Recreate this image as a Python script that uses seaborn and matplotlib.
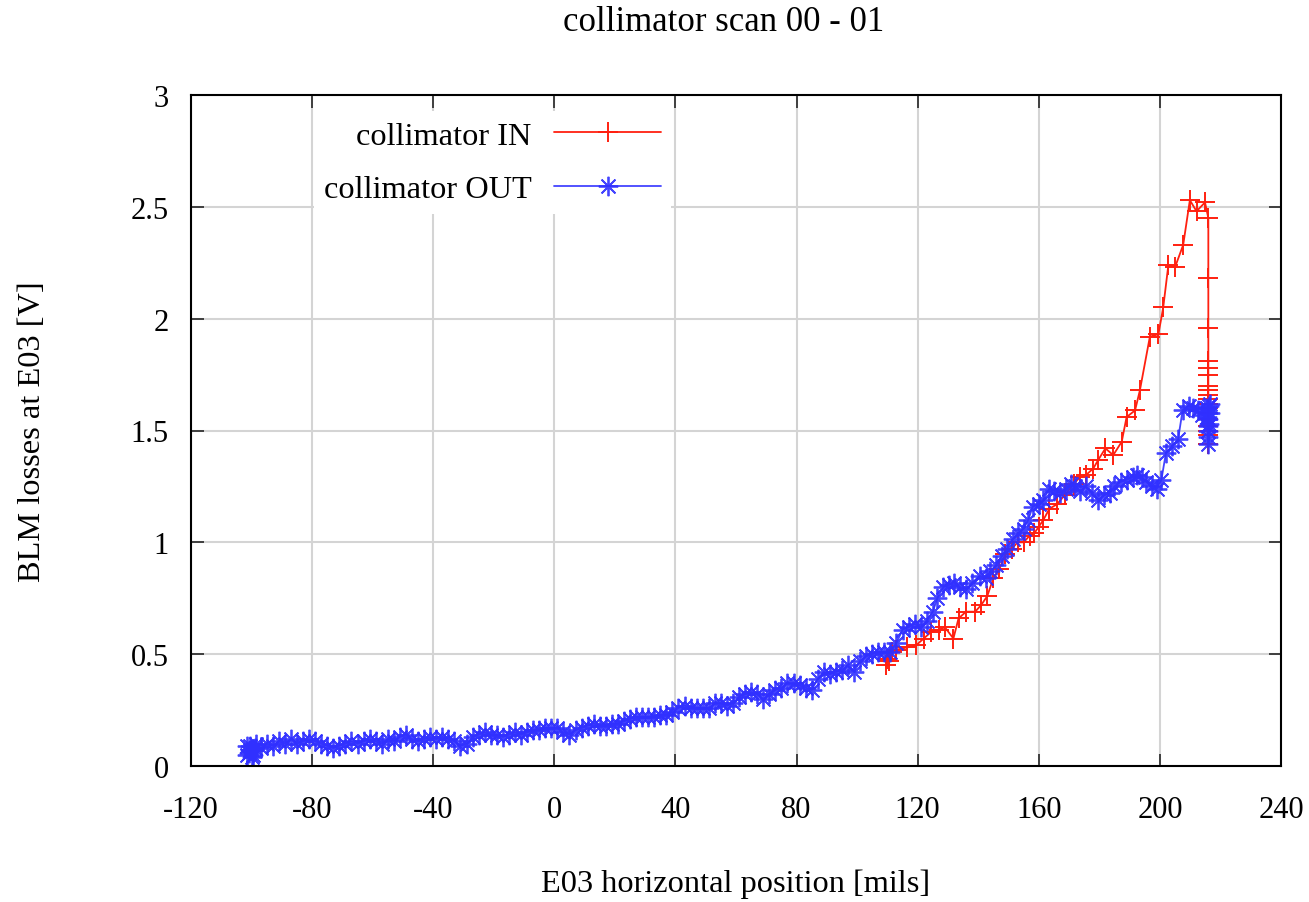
import matplotlib
matplotlib.use("Agg")
import matplotlib.pyplot as plt
import seaborn as sns
import pandas as pd

# BLM loss readings versus E03 horizontal position, collimator retracted
out_x = [-101.5, -100.5, -100, -99, -101, -98.5, -100.5, -101.5, -99.5, -100,
         -97, -95, -93, -91, -89, -87, -85, -83, -81, -79,
         -77, -75, -73, -71, -69, -67, -65, -63, -61, -59,
         -57, -55, -53, -51, -49, -47, -45, -43, -41, -39,
         -37, -35, -33, -31, -29, -27, -25, -23, -21, -19,
         -17, -15, -13, -11, -9, -7, -5, -3, -1, 1,
         3, 5, 7, 9, 11, 13, 15, 17, 19, 21,
         23, 25, 27, 29, 31, 33, 35, 37, 39, 41,
         43, 45, 47, 49, 51, 53, 55, 57, 59, 61,
         63, 65, 67, 69, 71, 73, 75, 77, 79, 81,
         83, 85, 87, 89, 91, 93, 95, 97, 99, 101,
         103, 105, 107, 109, 111, 113, 115, 117, 119, 121,
         123, 125, 126.5, 128.5, 130.5, 132, 134, 136, 138, 140.5,
         142.5, 144, 146, 148, 149.5, 151.5, 153, 155, 156.5, 158,
         160, 161.5, 163.5, 165, 167, 169, 170.5, 172, 173.5, 175.5,
         177.5, 179.5, 181.5, 183.5, 185, 187, 189, 191, 192.5, 194,
         195.5, 197.5, 199, 200.5, 202, 204, 206, 207.5, 209.5, 211,
         212.5, 214, 215.5, 216, 216.5, 216, 215.8, 216.3, 216, 215.7,
         216.2, 216, 216.4, 216]
out_y = [0.05, 0.09, 0.04, 0.08, 0.06, 0.10, 0.07, 0.09, 0.05, 0.07,
         0.08, 0.10, 0.09, 0.11, 0.10, 0.12, 0.10, 0.11, 0.12, 0.11,
         0.10, 0.09, 0.08, 0.09, 0.10, 0.11, 0.10, 0.11, 0.12, 0.11,
         0.10, 0.12, 0.11, 0.13, 0.14, 0.12, 0.11, 0.12, 0.13, 0.12,
         0.13, 0.12, 0.11, 0.09, 0.10, 0.13, 0.14, 0.15, 0.14, 0.14,
         0.13, 0.14, 0.15, 0.14, 0.15, 0.16, 0.16, 0.17, 0.17, 0.17,
         0.15, 0.14, 0.16, 0.17, 0.18, 0.19, 0.18, 0.18, 0.19, 0.19,
         0.20, 0.21, 0.22, 0.22, 0.22, 0.22, 0.23, 0.23, 0.24, 0.26,
         0.27, 0.26, 0.26, 0.26, 0.26, 0.28, 0.28, 0.27, 0.28, 0.31,
         0.32, 0.33, 0.32, 0.30, 0.32, 0.34, 0.35, 0.37, 0.37, 0.36,
         0.35, 0.34, 0.39, 0.42, 0.41, 0.42, 0.43, 0.45, 0.42, 0.47,
         0.49, 0.50, 0.51, 0.51, 0.51, 0.55, 0.61, 0.62, 0.635, 0.62,
         0.65, 0.69, 0.75, 0.80, 0.81, 0.82, 0.80, 0.79, 0.82, 0.85,
         0.84, 0.87, 0.90, 0.94, 0.97, 1.015, 1.04, 1.06, 1.10, 1.16,
         1.17, 1.19, 1.24, 1.23, 1.22, 1.24, 1.26, 1.25, 1.23, 1.25,
         1.22, 1.19, 1.21, 1.22, 1.25, 1.27, 1.28, 1.29, 1.30, 1.29,
         1.27, 1.25, 1.24, 1.28, 1.40, 1.43, 1.46, 1.59, 1.61, 1.60,
         1.59, 1.57, 1.60, 1.55, 1.62, 1.50, 1.58, 1.53, 1.47, 1.56,
         1.61, 1.52, 1.58, 1.44]

# BLM loss readings with the collimator inserted
in_x = [109.5, 110, 110.5, 111.5, 113, 116.5, 119.5, 122, 124.5, 127,
        129, 131.8, 133.5, 136, 139, 141, 143, 145, 147, 149,
        151, 153, 155, 157, 158.5, 160, 161.5, 163.5, 166, 168.5,
        171.5, 173.5, 175.5, 178, 179.7, 182, 184.6, 187.4, 189, 191.8,
        193.4, 196.7, 199.5, 201.1, 202.8, 205, 207.7, 209.9, 212.1, 214.9,
        216, 216, 216, 216, 216, 216, 216, 216, 216, 216,
        216, 216, 216, 216, 216, 216, 216, 216]
in_y = [0.45, 0.48, 0.47, 0.51, 0.52, 0.53, 0.54, 0.57, 0.60, 0.61,
        0.62, 0.57, 0.66, 0.69, 0.69, 0.72, 0.76, 0.84, 0.88, 0.95,
        0.97, 1.00, 1.00, 1.03, 1.04, 1.07, 1.10, 1.15, 1.17, 1.21,
        1.26, 1.29, 1.30, 1.33, 1.37, 1.42, 1.39, 1.45, 1.56, 1.59,
        1.68, 1.92, 1.93, 2.05, 2.24, 2.23, 2.33, 2.53, 2.48, 2.52,
        2.45, 2.18, 1.96, 1.81, 1.78, 1.75, 1.70, 1.68, 1.66, 1.64,
        1.62, 1.60, 1.58, 1.55, 1.52, 1.50, 1.48, 1.44]

x_ticks = [-120, -80, -40, 0, 40, 80, 120, 160, 200, 240]
y_ticks = [0, 0.5, 1, 1.5, 2, 2.5, 3]
y_tick_labels = ["0", "0.5", "1", "1.5", "2", "2.5", "3"]

RED = "#ff2010"
BLUE = "#3030ff"

sns.set_theme(style="white")
plt.rcParams["font.family"] = ["Liberation Serif", "DejaVu Serif"]
plt.rcParams["font.size"] = 22
plt.rcParams["text.color"] = "black"
plt.rcParams["axes.labelcolor"] = "black"
plt.rcParams["xtick.color"] = "black"
plt.rcParams["ytick.color"] = "black"

df_in = pd.DataFrame({"x": in_x, "y": in_y})
df_out = pd.DataFrame({"x": out_x, "y": out_y})

fig = plt.figure(figsize=(13.09, 9.03), dpi=100)
ax = fig.add_axes([191 / 1309, (903 - 767) / 903, 1090 / 1309, 671 / 903])

sns.lineplot(data=df_in, x="x", y="y", sort=False, estimator=None, ax=ax,
             color=RED, linewidth=1.3, marker="+", markersize=15,
             markeredgewidth=1.4, markeredgecolor=RED, markerfacecolor=RED,
             label="collimator IN")
sns.lineplot(data=df_out, x="x", y="y", sort=False, estimator=None, ax=ax,
             color=BLUE, linewidth=1.3, marker=(8, 2, 0), markersize=14,
             markeredgewidth=1.3, markeredgecolor=BLUE, markerfacecolor=BLUE,
             alpha=0.9, label="collimator OUT")

ax.set_xlim(-120, 240)
ax.set_ylim(0, 3)
ax.set_xticks(x_ticks)
ax.set_xticklabels([str(v) for v in x_ticks])
ax.set_yticks(y_ticks)
ax.set_yticklabels(y_tick_labels)

ax.grid(True, color="#d4d4d4", linewidth=1.5)
ax.set_axisbelow(True)
for s in ax.spines.values():
    s.set_color("black")
    s.set_linewidth(1.5)
ax.tick_params(direction="in", length=9, width=1.3, color="#333333",
               labelcolor="black", top=True, right=True, bottom=True,
               left=True, labelsize=22, pad=21)
ax.tick_params(axis="y", pad=16)

ax.set_xlabel("E03 horizontal position [mils]", fontsize=23.3, labelpad=32)
ax.set_ylabel("BLM losses at E03 [V]", fontsize=23.3, labelpad=60)
fig.text(0.553, 0.975, "collimator scan 00 - 01", ha="center", va="center",
         fontsize=25)

leg = ax.legend(loc="upper right", bbox_to_anchor=(0.455, 1.0),
                markerfirst=False, handlelength=3.3, handletextpad=0.7,
                labelspacing=0.75, numpoints=1, frameon=True,
                borderpad=0.3, fontsize=23.3)
leg.get_frame().set_facecolor("white")
leg.get_frame().set_edgecolor("none")
leg.get_frame().set_alpha(1.0)

fig.savefig("out.png", dpi=100)
